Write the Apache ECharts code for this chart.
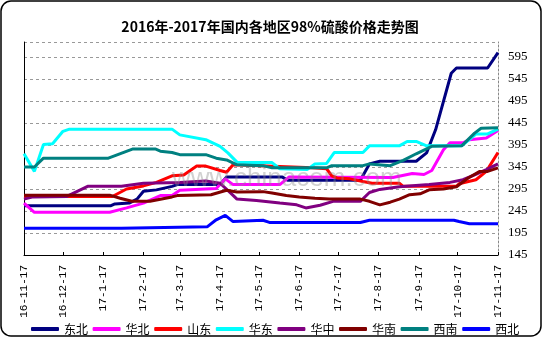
<!DOCTYPE html>
<html>
<head>
<meta charset="utf-8">
<script src="https://cdn.jsdelivr.net/npm/echarts@6/dist/echarts.min.js"></script>
<style>
  html, body { margin: 0; padding: 0; background: #fff; }
  #chart { width: 543px; height: 338px; }
</style>
</head>
<body>
<div id="chart"></div>
<script>
// Weekly market prices of 98% sulfuric acid by region (yuan/t), as [date, price] turning points
const dongbei = [['2016-11-17',257],['2017-01-23',257],['2017-01-26',261],['2017-02-06',263],['2017-02-12',272],['2017-02-17',290],['2017-02-27',293],['2017-03-11',301],['2017-03-15',305],['2017-04-17',305],['2017-04-22',322],['2017-06-04',322],['2017-06-08',315],['2017-08-03',315],['2017-08-10',352],['2017-08-18',358],['2017-09-15',358],['2017-09-23',377],['2017-09-30',430],['2017-10-12',558],['2017-10-16',570],['2017-11-09',570],['2017-11-17',605]];
const huabei = [['2016-11-17',263],['2016-11-25',242],['2017-01-22',242],['2017-02-04',252],['2017-02-17',263],['2017-03-02',280],['2017-03-11',280],['2017-03-17',292],['2017-04-14',296],['2017-04-21',318],['2017-04-27',305],['2017-06-02',305],['2017-06-09',322],['2017-08-28',321],['2017-09-12',330],['2017-09-21',328],['2017-09-27',337],['2017-10-06',384],['2017-10-11',400],['2017-10-21',400],['2017-10-26',407],['2017-11-08',411],['2017-11-17',428]];
const shandong = [['2016-11-17',278],['2017-01-24',278],['2017-02-04',295],['2017-02-17',302],['2017-02-27',310],['2017-03-11',325],['2017-03-20',327],['2017-03-30',347],['2017-04-06',347],['2017-04-17',337],['2017-04-22',333],['2017-04-27',350],['2017-06-02',346],['2017-06-27',343],['2017-07-08',341],['2017-07-12',325],['2017-07-16',320],['2017-07-26',318],['2017-08-05',312],['2017-08-12',308],['2017-09-02',308],['2017-09-05',301],['2017-10-16',301],['2017-10-18',307],['2017-10-31',316],['2017-11-08',335],['2017-11-17',378]];
const huadong = [['2016-11-17',375],['2016-11-25',335],['2016-12-02',396],['2016-12-09',398],['2016-12-17',426],['2016-12-22',431],['2017-03-11',431],['2017-03-17',418],['2017-04-06',407],['2017-04-17',392],['2017-04-23',377],['2017-04-30',356],['2017-05-15',355],['2017-05-27',355],['2017-06-02',341],['2017-06-23',339],['2017-06-29',352],['2017-07-08',353],['2017-07-14',378],['2017-08-05',378],['2017-08-10',393],['2017-09-02',393],['2017-09-08',403],['2017-09-15',403],['2017-09-23',393],['2017-10-20',393],['2017-10-31',420],['2017-11-09',420],['2017-11-17',431]];
const huazhong = [['2016-11-17',272],['2016-11-24',277],['2016-12-20',278],['2017-01-05',301],['2017-01-31',301],['2017-02-17',308],['2017-03-17',310],['2017-04-06',313],['2017-04-17',308],['2017-04-25',286],['2017-04-30',272],['2017-05-15',269],['2017-06-02',263],['2017-06-15',259],['2017-06-22',252],['2017-07-03',258],['2017-07-13',267],['2017-08-03',267],['2017-08-10',287],['2017-08-18',294],['2017-09-02',300],['2017-09-25',305],['2017-10-11',310],['2017-10-21',316],['2017-10-30',327],['2017-11-08',339],['2017-11-17',352]];
const huanan = [['2016-11-17',281],['2017-01-22',281],['2017-01-30',274],['2017-02-08',267],['2017-02-22',267],['2017-03-11',277],['2017-03-15',280],['2017-04-10',282],['2017-04-22',292],['2017-04-30',288],['2017-05-20',289],['2017-05-27',286],['2017-06-07',280],['2017-06-17',277],['2017-06-29',274],['2017-07-10',272],['2017-08-03',272],['2017-08-10',267],['2017-08-18',259],['2017-08-26',265],['2017-09-02',272],['2017-09-10',282],['2017-09-18',284],['2017-09-25',293],['2017-10-06',295],['2017-10-16',300],['2017-10-25',320],['2017-11-03',335],['2017-11-09',335],['2017-11-17',343]];
const xinan = [['2016-11-17',345],['2016-11-25',345],['2016-12-02',365],['2017-01-21',365],['2017-02-09',386],['2017-02-26',386],['2017-03-02',381],['2017-03-11',378],['2017-03-17',373],['2017-04-06',373],['2017-04-14',365],['2017-04-22',361],['2017-04-30',350],['2017-05-20',348],['2017-05-27',343],['2017-07-08',343],['2017-07-12',348],['2017-08-05',348],['2017-08-10',352],['2017-08-26',348],['2017-09-05',360],['2017-09-15',375],['2017-09-27',392],['2017-10-20',393],['2017-10-30',422],['2017-11-04',433],['2017-11-17',434]];
const xibei = [['2016-11-17',206],['2017-01-31',206],['2017-02-01',209],['2017-04-07',209],['2017-04-14',225],['2017-04-21',235],['2017-04-27',221],['2017-05-20',224],['2017-05-25',219],['2017-08-03',219],['2017-08-10',224],['2017-10-14',224],['2017-10-18',221],['2017-10-26',216],['2017-11-17',216]];

const regionNames = ['东北', '华北', '山东', '华东', '华中', '华南', '西南', '西北'];
const regionData = [dongbei, huabei, shandong, huadong, huazhong, huanan, xinan, xibei];
const regionColors = ['#000080', '#FF00FF', '#FF0000', '#00FFFF', '#800080', '#800000', '#008080', '#0000FF'];

// Monthly date ticks and the price scale
const tickDates = ['2016-11-17','2016-12-17','2017-01-17','2017-02-17','2017-03-17','2017-04-17','2017-05-17','2017-06-17','2017-07-17','2017-08-17','2017-09-17','2017-10-17','2017-11-17'];
const priceMin = 145;
const priceMax = 629;
const priceStep = 50;

function toTime(s) {
  const p = s.split('-').map(Number);
  return new Date(p[0], p[1] - 1, p[2]).getTime();
}
function tickText(v) {
  const d = new Date(v);
  return String(d.getFullYear()).slice(2) + '-' + (d.getMonth() + 1) + '-' + d.getDate();
}

const tickTimes = tickDates.map(toTime);

const chart = echarts.init(document.getElementById('chart'), null, { renderer: 'canvas' });

chart.setOption({
  backgroundColor: '#fff',
  animation: false,
  title: {
    text: '2016年-2017年国内各地区98%硫酸价格走势图',
    left: 265,
    top: 15,
    textAlign: 'center',
    textStyle: { fontFamily: 'Noto Sans CJK SC', fontSize: 14, fontWeight: 'bold', color: '#000' }
  },
  legend: {
    data: regionNames,
    left: 26,
    top: 318,
    itemWidth: 28,
    itemHeight: 4,
    itemGap: 4.6,
    icon: 'roundRect',
    textStyle: { fontFamily: 'Noto Sans CJK SC', fontSize: 12, color: '#000' }
  },
  grid: { left: 24, right: 45, top: 42, bottom: 83 },
  xAxis: {
    // dates are carried as millisecond timestamps on a linear scale
    type: 'value',
    min: tickTimes[0],
    max: tickTimes[tickTimes.length - 1],
    axisLine: { show: true, lineStyle: { color: '#000', width: 1 } },
    axisTick: { show: true, inside: true, length: 3, customValues: tickTimes, lineStyle: { color: '#000' } },
    axisLabel: {
      customValues: tickTimes,
      rotate: 90,
      margin: 10,
      formatter: tickText,
      fontFamily: 'Liberation Mono',
      fontSize: 11,
      color: '#000'
    },
    splitLine: { show: false }
  },
  yAxis: [
    {
      type: 'value',
      position: 'right',
      min: priceMin,
      max: priceMax,
      interval: priceStep,
      axisLine: { show: true, lineStyle: { color: '#888', type: [2, 2], width: 1 } },
      axisTick: { show: false },
      axisLabel: {
        showMaxLabel: false,
        margin: 10,
        fontFamily: 'Liberation Serif',
        fontSize: 13,
        color: '#000'
      },
      splitLine: { show: true, lineStyle: { color: '#999', type: [3, 3], width: 1 } }
    },
    {
      type: 'value',
      position: 'left',
      min: priceMin,
      max: priceMax,
      axisLine: { show: true, lineStyle: { color: '#000', width: 1 } },
      axisTick: { show: false },
      axisLabel: { show: false },
      splitLine: { show: false }
    }
  ],
  series: regionNames.map((name, i) => ({
    name: name,
    type: 'line',
    yAxisIndex: 0,
    data: regionData[i].map(p => [toTime(p[0]), p[1]]),
    symbol: 'none',
    lineStyle: { width: 3, color: regionColors[i] },
    itemStyle: { color: regionColors[i] }
  })),
  graphic: [
    {
      type: 'text',
      left: 172,
      top: 166,
      z: 100,
      style: {
        text: 'www.chinacem.com',
        font: '26px "Liberation Sans"',
        fill: 'rgba(140,140,140,0.4)'
      }
    },
    {
      type: 'rect',
      shape: { x: 1, y: 1, width: 540, height: 335, r: 10 },
      style: { fill: 'none', stroke: '#000', lineWidth: 1.5 },
      z: 100
    }
  ]
});
</script>
</body>
</html>
